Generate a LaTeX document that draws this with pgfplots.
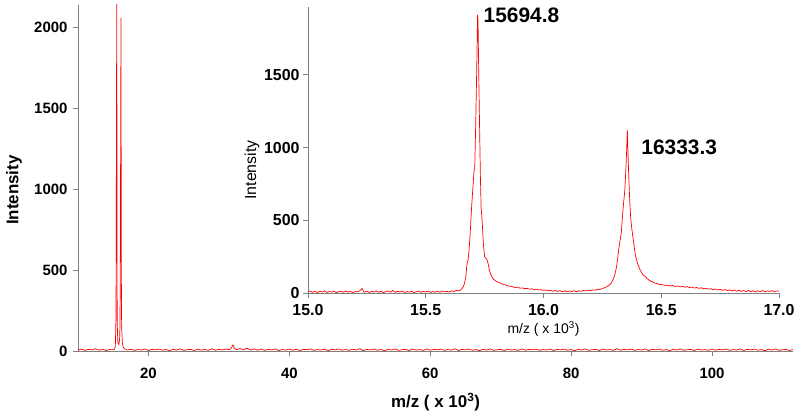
\documentclass[border=0pt]{standalone}
\usepackage{fontspec}
\setmainfont{Liberation Sans}
\usepackage{pgfplots}
\pgfplotsset{compat=1.18}
\definecolor{axgray}{HTML}{808080}

\pgfplotsset{
  msstyle/.style={
    scale only axis,
    axis x line=bottom, axis y line=left,
    axis line style={axgray, line width=0.8bp, -},
    tick style={axgray, line width=0.8bp},
    tick align=outside,
    major tick length=5bp,
    /pgf/number format/assume math mode=true,
    /pgf/number format/1000 sep={},
    clip=true,
  },
}

\begin{document}
\begin{tikzpicture}[x=1bp,y=1bp]
\path[use as bounding box] (0,0) rectangle (800,414);

% full spectrum
\begin{axis}[msstyle,
  at={(78bp,63bp)}, anchor=south west,
  width=715bp, height=346bp,
  xmin=10, xmax=111.5, ymin=0, ymax=2140,
  xtick={20,40,60,80,100}, ytick={0,500,1000,1500,2000},
  tick label style={font=\fontsize{15}{15}\selectfont\bfseries},
  xticklabel style={yshift=-9bp},
  yticklabel style={xshift=-2bp},
  xlabel={m/z ( x 10\textsuperscript{3})},
  ylabel={Intensity},
  label style={font=\fontsize{17}{17}\selectfont\bfseries},
  xlabel style={at={(axis description cs:0.5,-0.147)}, anchor=center},
  ylabel style={at={(axis description cs:-0.0895,0.465)}, anchor=center},
]
\addplot[red, line width=0.7bp] coordinates {
(10,6) (10.5,12) (11,4) (11.5,10) (12,7) (12.5,14) (13,5) (13.5,11) (14,3) (14.5,9) (15,8) (15.2,12)
(15.3,30) (15.35,120) (15.4,230) (15.43,850) (15.47,1500) (15.5,2400) (15.53,1200) (15.56,230)
(15.6,120) (15.65,60) (15.7,45) (15.8,40) (15.9,70) (15.95,140) (16.0,400) (16.05,1200) (16.1,2060)
(16.14,800) (16.17,240) (16.22,120) (16.3,50) (16.4,25) (16.6,14) (17,6)
(17.5,11) (18,4) (18.5,9) (19,6) (19.5,13) (20,3) (20.5,10) (21,7) (21.5,12) (22,5) (22.5,9) (23,2)
(23.5,11) (24,6) (24.5,13) (25,4) (25.5,8) (26,10) (26.5,3) (27,12) (27.5,6) (28,9) (28.5,4) (29,14)
(29.5,5) (30,10) (30.5,7) (31,12) (31.5,8) (31.8,20) (32,38) (32.2,16) (32.5,9) (33,15) (33.5,7)
(34,18) (34.5,6) (35,13) (35.5,5) (36,12) (36.5,4) (37,10) (37.5,7) (38,13) (38.5,3) (39,9) (39.5,6)
(40,12) (40.5,5) (41,11) (41.5,3) (42,10) (42.5,8) (43,13) (43.5,4) (44,9) (44.5,6) (45,12) (45.5,2)
(46,10) (46.5,7) (47,13) (47.5,5) (48,9) (48.5,4) (49,11) (49.5,6) (50,14) (50.5,3) (51,10) (51.5,7)
(52,12) (52.5,5) (53,9) (53.5,2) (54,11) (54.5,6) (55,13) (55.5,4) (56,8) (56.5,10) (57,3) (57.5,12)
(58,6) (58.5,9) (59,4) (59.5,13) (60,5) (60.5,10) (61,7) (61.5,12) (62,4) (62.5,9) (63,6) (63.5,14)
(64,3) (64.5,10) (65,7) (65.5,12) (66,5) (66.5,9) (67,2) (67.5,11) (68,6) (68.5,13) (69,4) (69.5,8)
(70,10) (70.5,3) (71,12) (71.5,6) (72,9) (72.5,4) (73,13) (73.5,5) (74,10) (74.5,7) (75,12) (75.5,4)
(76,9) (76.5,6) (77,13) (77.5,3) (78,10) (78.5,7) (79,12) (79.5,5) (80,9) (80.5,2) (81,11) (81.5,6)
(82,13) (82.5,4) (83,8) (83.5,10) (84,3) (84.5,12) (85,6) (85.5,9) (86,4) (86.5,14) (87,5) (87.5,10)
(88,7) (88.5,12) (89,4) (89.5,9) (90,6) (90.5,13) (91,3) (91.5,10) (92,7) (92.5,12) (93,5) (93.5,9)
(94,2) (94.5,11) (95,6) (95.5,13) (96,4) (96.5,8) (97,10) (97.5,3) (98,12) (98.5,6) (99,9) (99.5,4)
(100,13) (100.5,5) (101,10) (101.5,7) (102,12) (102.5,4) (103,9) (103.5,6) (104,13) (104.5,3)
(105,10) (105.5,7) (106,12) (106.5,5) (107,9) (107.5,2) (108,11) (108.5,6) (109,13) (109.5,4)
(110,8) (110.5,10) (111,3) (111.5,9)
};
\end{axis}

% inset: zoom on the two peaks
\begin{axis}[msstyle,
  at={(308bp,121bp)}, anchor=south west,
  width=471bp, height=286bp,
  xmin=15, xmax=17, ymin=0, ymax=1967,
  xtick={15,15.5,16,16.5,17}, ytick={0,500,1000,1500},
  tick label style={font=\fontsize{16}{16}\selectfont\bfseries},
  xticklabel style={yshift=-3bp, /pgf/number format/fixed, /pgf/number format/fixed zerofill, /pgf/number format/precision=1},
  xlabel={m/z ( x 10\textsuperscript{3})},
  ylabel={Intensity},
  label style={font=\fontsize{14}{14}\selectfont},
  xlabel style={at={(axis description cs:0.5,-0.127)}, anchor=center},
  ylabel style={at={(axis description cs:-0.119,0.43)}, anchor=center, font=\fontsize{16}{16}\selectfont},
]
\addplot[red, line width=0.7bp] coordinates {
(15.00,8) (15.01,14) (15.02,5) (15.03,11) (15.04,3) (15.05,12) (15.06,6) (15.07,15) (15.08,4)
(15.09,10) (15.10,7) (15.11,13) (15.12,2) (15.13,9) (15.14,12) (15.15,5) (15.16,14) (15.17,6)
(15.18,11) (15.19,3) (15.20,10) (15.21,8) (15.22,16) (15.23,31) (15.235,12) (15.24,6) (15.25,13)
(15.26,4) (15.27,11) (15.28,7) (15.29,15) (15.30,5) (15.31,12) (15.32,3) (15.33,9) (15.34,14)
(15.35,6) (15.36,18) (15.37,5) (15.38,11) (15.39,8) (15.40,13) (15.41,4) (15.42,10) (15.43,6)
(15.44,12) (15.45,3) (15.46,9) (15.47,14) (15.48,5) (15.49,11) (15.50,7) (15.51,13) (15.52,4)
(15.53,10) (15.54,6) (15.55,12) (15.56,5) (15.57,14) (15.58,8) (15.59,11) (15.60,7) (15.61,15)
(15.62,10) (15.63,18) (15.64,14) (15.65,25) (15.655,32) (15.66,45) (15.665,70) (15.67,110)
(15.675,200) (15.68,230) (15.685,320) (15.69,450) (15.695,600) (15.70,720) (15.705,840)
(15.708,860) (15.712,1150) (15.716,1500) (15.72,1912) (15.722,1870) (15.725,1500) (15.729,1100)
(15.732,800) (15.735,590) (15.74,480) (15.745,330) (15.75,250) (15.755,240) (15.76,230)
(15.765,200) (15.77,160) (15.775,130) (15.78,115) (15.785,100) (15.79,92) (15.80,80) (15.81,72)
(15.82,66) (15.83,58) (15.84,55) (15.85,48) (15.86,46) (15.87,42) (15.88,38) (15.89,40) (15.90,33)
(15.91,35) (15.92,30) (15.93,32) (15.94,27) (15.95,29) (15.96,24) (15.97,26) (15.98,21) (15.99,23)
(16.00,18) (16.01,21) (16.02,15) (16.03,19) (16.04,12) (16.05,17) (16.06,11) (16.07,16) (16.08,9)
(16.09,15) (16.10,8) (16.11,14) (16.12,10) (16.13,16) (16.14,9) (16.15,15) (16.16,12) (16.17,18)
(16.18,14) (16.19,20) (16.20,16) (16.21,22) (16.22,19) (16.23,26) (16.24,24) (16.25,32) (16.26,36)
(16.27,45) (16.28,55) (16.29,75) (16.30,110) (16.305,140) (16.31,180) (16.315,240) (16.32,310)
(16.325,360) (16.33,410) (16.335,520) (16.34,620) (16.345,700) (16.35,860) (16.353,980)
(16.356,1120) (16.359,950) (16.362,800) (16.366,640) (16.37,520) (16.375,440) (16.38,380)
(16.385,320) (16.39,260) (16.40,200) (16.41,160) (16.42,130) (16.43,115) (16.44,100) (16.45,86)
(16.46,78) (16.47,70) (16.48,66) (16.49,60) (16.50,58) (16.51,55) (16.52,52) (16.53,54) (16.54,48)
(16.55,52) (16.56,45) (16.57,49) (16.58,42) (16.59,46) (16.60,40) (16.61,44) (16.62,37) (16.63,41)
(16.64,34) (16.65,38) (16.66,32) (16.67,36) (16.68,28) (16.69,33) (16.70,26) (16.71,30) (16.72,23)
(16.73,28) (16.74,20) (16.75,26) (16.76,18) (16.77,24) (16.78,16) (16.79,22) (16.80,14) (16.81,21)
(16.82,12) (16.83,19) (16.84,11) (16.85,18) (16.86,10) (16.87,17) (16.88,9) (16.89,16) (16.90,8)
(16.91,15) (16.92,10) (16.93,17) (16.94,8) (16.95,14) (16.96,11) (16.97,16) (16.98,9) (16.99,15)
(17.00,12)
};
\node[anchor=west, inner sep=0pt, font=\fontsize{21}{21}\selectfont\bfseries] at (axis cs:15.745,1912) {15694.8};
\node[anchor=west, inner sep=0pt, font=\fontsize{21}{21}\selectfont\bfseries] at (axis cs:16.415,1004) {16333.3};
\end{axis}
\end{tikzpicture}
\end{document}
